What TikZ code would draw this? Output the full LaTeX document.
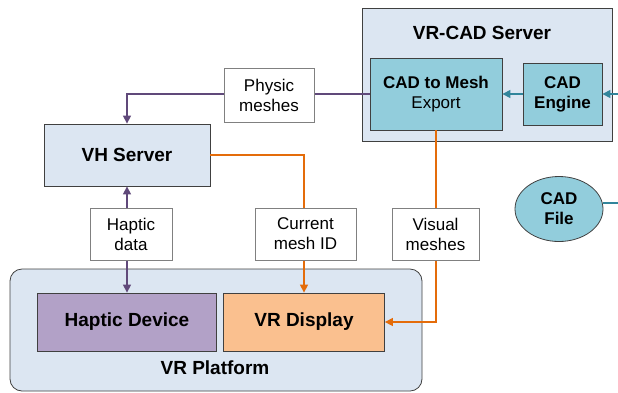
\documentclass[tikz,border=0pt]{standalone}
\usepackage{fontspec}
\setmainfont{Liberation Sans}
\definecolor{panel}{RGB}{220, 230, 242}
\definecolor{edge}{RGB}{64, 64, 64}
\definecolor{cadfill}{RGB}{146, 205, 220}
\definecolor{hapticfill}{RGB}{178, 161, 199}
\definecolor{displayfill}{RGB}{250, 192, 143}
\definecolor{purpleline}{RGB}{96, 73, 122}
\definecolor{orangeline}{RGB}{228, 108, 10}
\definecolor{tealline}{RGB}{49, 133, 155}
\usetikzlibrary{positioning,calc,arrows.meta}
\usetikzlibrary{shapes.geometric}

\begin{document}
\begin{tikzpicture}[
            x=1pt, y=-1pt,
            >={Triangle[width=8pt,length=8pt]},
            big/.style={font=\fontsize{19}{22}\selectfont\bfseries},
            mid/.style={font=\fontsize{17}{20}\selectfont},
            container/.style={
                rectangle, draw=edge, fill=panel, line width=0.8pt,
                inner sep=0pt
            },
            block/.style={
                draw=edge, line width=0.8pt,
                inner sep=0pt, align=center
            },
            tagbox/.style={
                rectangle, draw=gray, fill=white, line width=0.6pt,
                inner sep=0pt, align=center, mid
            },
            flow/.style={line width=1.3pt},
        ]
            \useasboundingbox (0,0) rectangle (618,392);

            \node [container, minimum width=250pt, minimum height=133pt] (vrcad) at (487,74.5) {};
            \node [big] (vrcadtitle) at (482,33) {VR-CAD Server};
            \node [rectangle, block, fill=cadfill, mid, minimum width=132pt, minimum height=72pt] (export) at (436,94) {\textbf{CAD to Mesh}\\Export};
            \node [rectangle, block, fill=cadfill, font=\fontsize{17}{20}\selectfont\bfseries, minimum width=79pt, minimum height=62pt] (engine) at (562.5,94) {CAD\\Engine};
            \node [ellipse, block, fill=cadfill, font=\fontsize{17}{20}\selectfont\bfseries, minimum width=88pt, minimum height=65pt] (cadfile) at (559,209) {CAD\\File};
            \node [rectangle, block, fill=panel, big, minimum width=166pt, minimum height=62pt] (vh) at (127,155) {VH Server};

            \node [container, rounded corners=12pt, minimum width=412pt, minimum height=122pt] (platform) at (216,330) {};
            \node [big] (platformtitle) at (215,368) {VR Platform};
            \node [rectangle, block, fill=hapticfill, big, minimum width=179pt, minimum height=58pt] (hapticdev) at (127,322) {Haptic Device};
            \node [rectangle, block, fill=displayfill, big, minimum width=161pt, minimum height=58pt] (vrdisplay) at (304,322) {VR Display};

            \coordinate (cadin) at (618,94);
            \coordinate (fileout) at (618,203);

            \draw[flow, ->, tealline] (cadin) -- (engine);
            \draw[flow, ->, tealline] (engine) -- (export);
            \draw[flow, tealline] (cadfile.east |- fileout) -- (fileout);
            \draw[flow, ->, purpleline] (export.west) -| (vh.north);
            \draw[flow, <->, purpleline] (vh.south) -- (hapticdev.north);
            \draw[flow, ->, orangeline] (vh.east) -| (vrdisplay.north);
            \draw[flow, ->, orangeline] (export.south) |- (vrdisplay.east);

            \node [tagbox, minimum width=90pt, minimum height=54pt] (physic) at (269,95) {Physic\\meshes};
            \node [tagbox, minimum width=82pt, minimum height=52pt] (hapticdata) at (131,234) {Haptic\\data};
            \node [tagbox, minimum width=101pt, minimum height=52pt] (meshid) at (305.5,234) {Current\\mesh ID};
            \node [tagbox, minimum width=87pt, minimum height=52pt] (visual) at (435.5,234) {Visual\\meshes};

        \end{tikzpicture}
\end{document}
